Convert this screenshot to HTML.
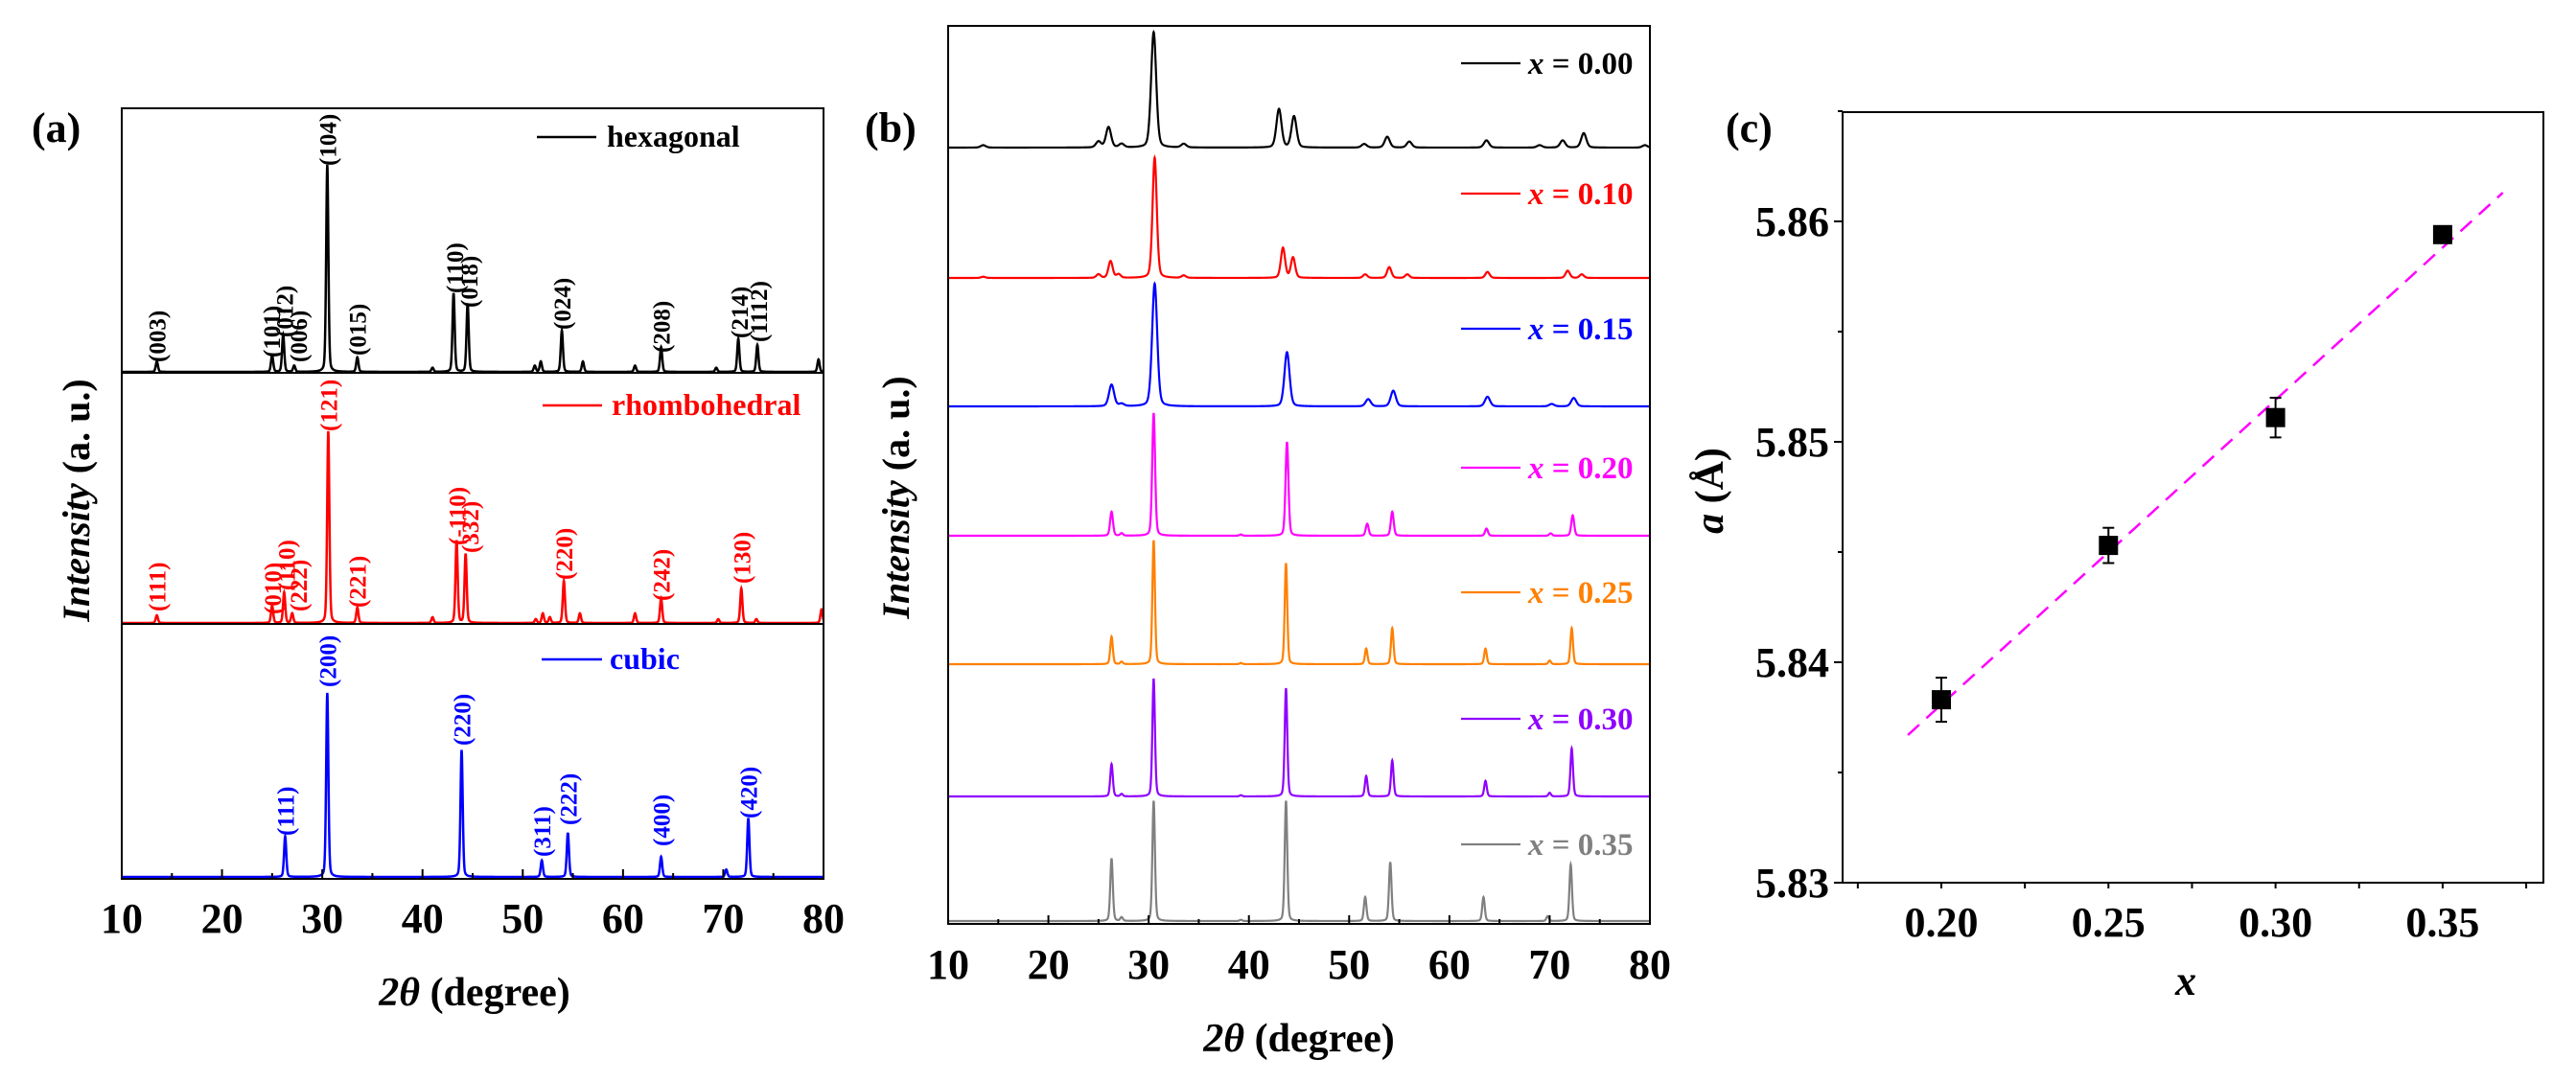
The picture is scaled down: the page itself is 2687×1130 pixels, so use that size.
<!DOCTYPE html>
<html><head><meta charset="utf-8">
<style>
html,body{margin:0;padding:0;background:#fff;}
svg{display:block;font-family:"Liberation Serif",serif;font-weight:bold;}
</style></head>
<body>
<svg id="fig" width="2687" height="1130" viewBox="0 0 2687 1130" xmlns="http://www.w3.org/2000/svg">
<rect width="2687" height="1130" fill="#fff"/>
<g id="pa"></g>
<g id="pb"></g>
<g id="pc"></g>
</svg>
<script>
// ---------- Panel (a) data ----------
const hexPeaks = [13.5,25.0,26.1,27.2,30.5,33.5,41.0,43.1,44.5,51.2,51.8,53.9,56.0,61.2,63.8,69.3,71.5,73.4,79.5];
const hexHeights = [5,8,18,3,100,7,2,38,33,3,5,20,5,3,12,2,16,13,6];
const hexLabels = ["(003)","(101)","(012)","(006)","(104)","(015)","(110)","(018)","(024)","(208)","(214)","(1112)"];
const hexLabelX = [13.5,24.9,26.2,27.6,30.5,33.5,43.2,44.6,53.9,63.8,71.6,73.5];
const hexLabelY = [378,373,352,378,173,371,306,321,344,368,353,357];

const rhoPeaks = [13.5,25.0,26.2,27.0,30.6,33.5,41.0,43.4,44.3,51.3,52.0,52.7,54.1,55.7,61.2,63.8,69.5,71.8,73.3,79.8];
const rhoHeights = [4,9,16,5,100,8,3,43,36,2,5,3,22,5,5,13,2,18,2,7];
const rhoLabels = ["(111)","(010)","(110)","(222)","(121)","(221)","(-110)","(332)","(220)","(242)","(130)"];
const rhoLabelX = [13.5,25.0,26.4,27.6,30.6,33.5,43.4,44.7,54.1,63.8,71.8];
const rhoLabelY = [638,641,616,638,450,634,569,577,605,627,609];

const cubPeaks = [26.3,30.5,43.9,51.9,54.5,63.8,70.3,72.5];
const cubHeights = [22,100,69,9,24,11,4,32];
const cubLabels = ["(111)","(200)","(220)","(311)","(222)","(400)","(420)"];
const cubLabelX = [26.3,30.5,43.9,51.9,54.5,63.8,72.5];
const cubLabelY = [872,717,778,894,861,883,854];

const xTicksA = [10,20,30,40,50,60,70,80];

// ---------- Panel (b) data ----------
const bNames = ["x = 0.00","x = 0.10","x = 0.15","x = 0.20","x = 0.25","x = 0.30","x = 0.35"];
const bPeaks0 = [13.5,25.0,26.0,27.3,30.5,33.5,43.0,44.5,51.5,53.8,56.0,63.7,69.0,71.3,73.4,79.5];
const bHeights0 = [2,5,17,3,96,3,32,26,3,9,5,6,2,6,12,2];
const bPeaks1 = [13.5,25.0,26.2,27.0,30.6,33.5,43.4,44.4,51.6,54.0,55.8,63.8,71.8,73.2];
const bHeights1 = [1,3,14,3,100,2,25,17,3,9,3,5,6,3];
const bPeaks2 = [26.3,27.3,30.6,43.8,51.9,54.4,63.8,70.2,72.4];
const bHeights2 = [18,2,102,45,6,13,8,2,7];
const bPeaks3 = [26.3,27.3,30.5,39.2,43.8,51.8,54.3,63.7,70.1,72.3];
const bHeights3 = [20,2,102,1,78,10,20,6,2,17];
const bPeaks4 = [26.3,27.3,30.5,39.2,43.7,51.7,54.3,63.6,70.0,72.2];
const bHeights4 = [23,2,103,1,84,13,30,13,3,30];
const bPeaks5 = [26.3,27.3,30.5,39.2,43.7,51.7,54.3,63.6,70.0,72.2];
const bHeights5 = [27,2,98,1,90,17,30,13,3,40];
const bPeaks6 = [26.3,27.3,30.5,39.2,43.7,51.6,54.1,63.4,69.8,72.1];
const bHeights6 = [52,3,100,1,100,20,49,20,4,47];
const xTicksB = [10,20,30,40,50,60,70,80];

// ---------- Panel (c) data ----------
const cX = [0.20,0.25,0.30,0.35];
const cA = [5.8383,5.8453,5.8511,5.8594];
const cErr = [0.0010,0.0008,0.0009,0.0003];
const fitX = [0.19,0.368];
const fitA = [5.8367,5.8613];
const cXTicks = [0.20,0.25,0.30,0.35];
const cXTickLabels = ["0.20","0.25","0.30","0.35"];
const cYTicks = [5.83,5.84,5.85,5.86];
const cYTickLabels = ["5.83","5.84","5.85","5.86"];

const NS="http://www.w3.org/2000/svg";
function mk(tag, attrs, parent, text){
  const e=document.createElementNS(NS,tag);
  for(const k in attrs) e.setAttribute(k,attrs[k]);
  if(text!==undefined) e.textContent=text;
  parent.appendChild(e); return e;
}
function profile(t, peaks, heights, w){
  let s=0;
  for(let i=0;i<peaks.length;i++){
    const d=(t-peaks[i])/w;
    s+=heights[i]*(0.75*Math.exp(-d*d*0.693)+0.25/(1+d*d));
  }
  return s;
}
function tracePath(xf, baseY, scale, peaks, heights, w){
  let d="";
  for(let t=10;t<=80.0001;t+=0.02){
    const x=xf(t), y=baseY-scale*profile(t,peaks,heights,w);
    d+=(d?"L":"M")+x.toFixed(2)+","+y.toFixed(2);
  }
  return d;
}

// ================= Panel A =================
const pa=document.getElementById('pa');
const aL=127,aR=859,aT=113,aB=917;
const xa=t=>aL+(t-10)/70*(aR-aL);
const aSets=[
 {p:hexPeaks,h:hexHeights,lab:hexLabels,lx:hexLabelX,ly:hexLabelY,base:388,sc:2.16,col:"#000",name:"hexagonal",leg:[560,622,633,143]},
 {p:rhoPeaks,h:rhoHeights,lab:rhoLabels,lx:rhoLabelX,ly:rhoLabelY,base:650,sc:2.0,col:"#ff0000",name:"rhombohedral",leg:[566,628,638,423]},
 {p:cubPeaks,h:cubHeights,lab:cubLabels,lx:cubLabelX,ly:cubLabelY,base:915,sc:1.92,col:"#0000ff",name:"cubic",leg:[565,628,636,688]}
];
aSets.forEach((s,i)=>{
  const path=mk('path',{d:tracePath(xa,s.base,s.sc,s.p,s.h,0.13),fill:"none",stroke:s.col,"stroke-width":2.5},pa);
  
  
  s.lab.forEach((l,j)=>{
    const x=xa(s.lx[j]), y=s.ly[j];
    const t=mk('text',{x:0,y:0,transform:`translate(${x+9},${y}) rotate(-90)`,"font-size":25,fill:s.col},pa,l);
    
    
  });
  const ll=mk('line',{x1:s.leg[0],x2:s.leg[1],y1:s.leg[3],y2:s.leg[3],stroke:s.col,"stroke-width":2.5},pa);
  
  
  const lt=mk('text',{x:s.leg[2],y:s.leg[3]+10,"font-size":32,fill:s.col},pa,s.name);
  
  
});
mk('line',{x1:aL,x2:aR,y1:389,y2:389,stroke:"#000","stroke-width":2},pa);
mk('line',{x1:aL,x2:aR,y1:651,y2:651,stroke:"#000","stroke-width":2},pa);
const fa=mk('rect',{x:aL,y:aT,width:aR-aL,height:aB-aT,fill:"none",stroke:"#000","stroke-width":2},pa);
 
for(let t=10;t<=80;t+=5){
  const x=xa(t), len=(t%10===0)?10:6;
  mk('line',{x1:x,x2:x,y1:aB,y2:aB-len,stroke:"#000","stroke-width":2},pa);
}
xTicksA.forEach(t=>{
  const e=mk('text',{x:xa(t),y:973,"font-size":44,"text-anchor":"middle"},pa,String(t));
   
});
{
 const e=mk('text',{x:495,y:1049,"font-size":42,"text-anchor":"middle"},pa);
  
 mk('tspan',{"font-style":"italic"},e,"2θ ");
 mk('tspan',{},e,"(degree)");
 const y=mk('text',{x:0,y:0,transform:"translate(93,522) rotate(-90)","font-size":40,"text-anchor":"middle"},pa);
  
 mk('tspan',{"font-style":"italic"},y,"Intensity ");
 mk('tspan',{},y,"(a. u.)");
 const p=mk('text',{x:33,y:148,"font-size":44},pa,"(a)");
  
}

// ================= Panel B =================
const pb=document.getElementById('pb');
const bL=989,bR=1721,bT=27,bB=964;
const xb=t=>bL+(t-10)/70*(bR-bL);
const bPeaks=[bPeaks0,bPeaks1,bPeaks2,bPeaks3,bPeaks4,bPeaks5,bPeaks6];
const bHeights=[bHeights0,bHeights1,bHeights2,bHeights3,bHeights4,bHeights5,bHeights6];
const bBase=[154,290,424,559,693,831,961];
const bCols=["#000","#ff0000","#0000ff","#ff00ff","#ff8000","#8f00ff","#808080"];
const bWid=[0.3,0.25,0.3,0.17,0.15,0.15,0.15];
const bLegY=[66,202,343,488,618,750,881];
bNames.forEach((n,i)=>{
  const path=mk('path',{d:tracePath(xb,bBase[i],1.255,bPeaks[i],bHeights[i],bWid[i]),fill:"none",stroke:bCols[i],"stroke-width":2.2},pb);
  
  
  const ll=mk('line',{x1:1524,x2:1586,y1:bLegY[i],y2:bLegY[i],stroke:bCols[i],"stroke-width":2.2},pb);
  
  
  const t=mk('text',{x:1594,y:bLegY[i]+11,"font-size":33,fill:bCols[i]},pb);
  
  
  mk('tspan',{"font-style":"italic"},t,"x");
  mk('tspan',{},t,n.slice(1));
});
const fb=mk('rect',{x:bL,y:bT,width:bR-bL,height:bB-bT,fill:"none",stroke:"#000","stroke-width":2},pb);
 
for(let t=10;t<=80;t+=5){
  const x=xb(t), len=(t%10===0)?9:5;
  mk('line',{x1:x,x2:x,y1:bB,y2:bB-len,stroke:"#000","stroke-width":2},pb);
}
xTicksB.forEach(t=>{
  const e=mk('text',{x:xb(t),y:1021,"font-size":44,"text-anchor":"middle"},pb,String(t));
   
});
{
 const e=mk('text',{x:1355,y:1097,"font-size":42,"text-anchor":"middle"},pb);
  
 mk('tspan',{"font-style":"italic"},e,"2θ ");
 mk('tspan',{},e,"(degree)");
 const y=mk('text',{x:0,y:0,transform:"translate(948,519) rotate(-90)","font-size":40,"text-anchor":"middle"},pb);
  
 mk('tspan',{"font-style":"italic"},y,"Intensity ");
 mk('tspan',{},y,"(a. u.)");
 const p=mk('text',{x:902,y:148,"font-size":44},pb,"(b)");
  
}

// ================= Panel C =================
const pc=document.getElementById('pc');
const cL=1922,cR=2653,cT=117,cB=921;
const xc=v=>2025+(v-0.20)/0.05*174.3;
const yc=v=>921-(v-5.83)/0.01*230;
const fc=mk('rect',{x:cL,y:cT,width:cR-cL,height:cB-cT,fill:"none",stroke:"#000","stroke-width":2},pc);
 
for(let v=5.83;v<=5.8651;v+=0.005){
  const y=yc(v), major=Math.abs(Math.round(v*100)-v*100)<1e-6;
  mk('line',{x1:cL,x2:cL-(major?9:5),y1:y,y2:y,stroke:"#000","stroke-width":2},pc);
}
for(let v=0.175;v<=0.3801;v+=0.025){
  const x=xc(v);
  mk('line',{x1:x,x2:x,y1:cB,y2:cB+6,stroke:"#000","stroke-width":2},pc);
}
cYTicks.forEach((v,i)=>{
  const e=mk('text',{x:1908,y:yc(v)+15,"font-size":44,"text-anchor":"end"},pc,cYTickLabels[i]);
   
});
cXTicks.forEach((v,i)=>{
  const e=mk('text',{x:xc(v),y:977,"font-size":44,"text-anchor":"middle"},pc,cXTickLabels[i]);
   
});
const fit=mk('line',{x1:xc(fitX[0]),y1:yc(fitA[0]),x2:xc(fitX[1]),y2:yc(fitA[1]),stroke:"#ff00ff","stroke-width":2.5,"stroke-dasharray":"16,10"},pc);
 
cX.forEach((v,i)=>{
  const x=xc(v), y=yc(cA[i]), e1=yc(cA[i]+cErr[i]), e2=yc(cA[i]-cErr[i]);
  const g=mk('g',{},pc);
  
  
  mk('line',{x1:x,x2:x,y1:e1,y2:e2,stroke:"#000","stroke-width":2},g);
  mk('line',{x1:x-6,x2:x+6,y1:e1,y2:e1,stroke:"#000","stroke-width":2},g);
  mk('line',{x1:x-6,x2:x+6,y1:e2,y2:e2,stroke:"#000","stroke-width":2},g);
  mk('rect',{x:x-10,y:y-10,width:20,height:20,fill:"#000"},g);
});
{
 const e=mk('text',{x:2280,y:1038,"font-size":44,"font-style":"italic","text-anchor":"middle"},pc,"x");
  
 const y=mk('text',{x:0,y:0,transform:"translate(1797,512) rotate(-90)","font-size":42,"text-anchor":"middle"},pc);
  
 mk('tspan',{"font-style":"italic"},y,"a ");
 mk('tspan',{},y,"(Å)");
 const p=mk('text',{x:1800,y:148,"font-size":44},pc,"(c)");
  
}
</script>
</body></html>
